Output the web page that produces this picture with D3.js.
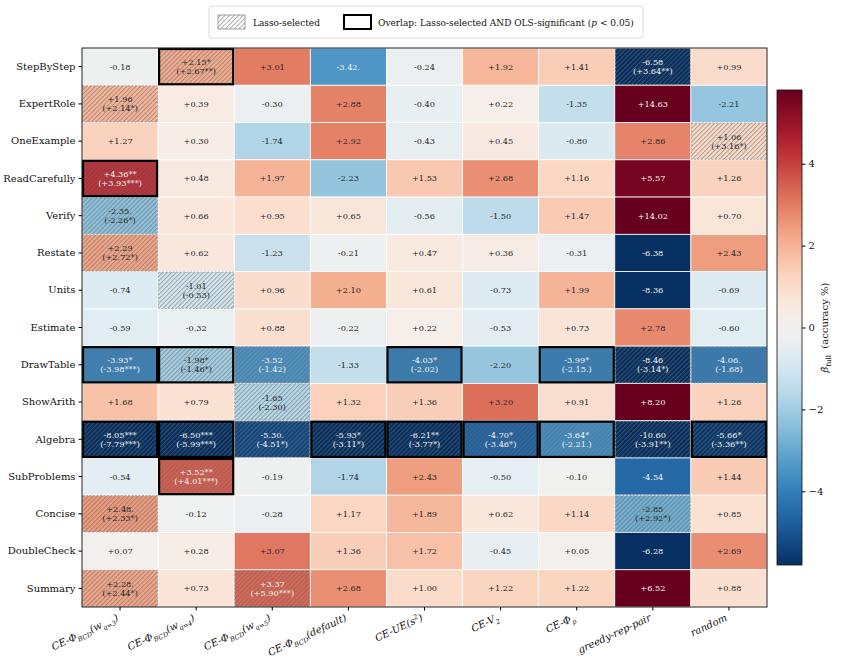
<!DOCTYPE html>
<html>
<head>
<meta charset="utf-8">
<script src="https://cdn.jsdelivr.net/npm/d3@7"></script>
<style>
    body { margin: 0; background: #fff; }
    svg text { font-family: "DejaVu Serif", serif; }
</style>
</head>
<body>
<svg id="chart" width="844" height="660"></svg>
<script>
// rows = prompt components, columns = selection methods
const rowLabels = ["StepByStep", "ExpertRole", "OneExample", "ReadCarefully", "Verify", "Restate",
    "Units", "Estimate", "DrawTable", "ShowArith", "Algebra", "SubProblems", "Concise", "DoubleCheck", "Summary"];

const colLabels = ["CE-Φ_{BCD}(w_{q=3})", "CE-Φ_{BCD}(w_{q=4})", "CE-Φ_{BCD}(w_{q=5})", "CE-Φ_{BCD}(default)",
    "CE-UE(s^{2})", "CE-V_{2}", "CE-Φ_{p}", "greedy-rep-pair", "random"];

// beta_full (accuracy %)
const betaFull = [
    [-0.18, 2.15, 3.01, -3.42, -0.24, 1.92, 1.41, -6.58, 0.99],
    [1.96, 0.39, -0.30, 2.88, -0.40, 0.22, -1.35, 14.63, -2.21],
    [1.27, 0.30, -1.74, 2.92, -0.43, 0.45, -0.80, 2.86, 1.06],
    [4.36, 0.48, 1.97, -2.23, 1.53, 2.68, 1.16, 5.57, 1.26],
    [-2.35, 0.66, 0.95, 0.65, -0.56, -1.50, 1.47, 14.02, 0.70],
    [2.29, 0.62, -1.23, -0.21, 0.47, 0.36, -0.31, -6.38, 2.43],
    [-0.74, -1.01, 0.96, 2.10, 0.61, -0.73, 1.99, -8.36, -0.69],
    [-0.59, -0.32, 0.88, -0.22, 0.22, -0.53, 0.73, 2.78, -0.60],
    [-3.93, -1.98, -3.52, -1.33, -4.03, -2.20, -3.99, -8.46, -4.06],
    [1.68, 0.79, -1.65, 1.32, 1.36, 3.20, 0.91, 8.20, 1.26],
    [-8.05, -6.50, -5.30, -5.93, -6.21, -4.70, -3.64, -10.60, -5.66],
    [-0.54, 3.52, -0.19, -1.74, 2.43, -0.50, -0.10, -4.54, 1.44],
    [2.48, -0.12, -0.28, 1.17, 1.89, 0.62, 1.14, -2.85, 0.85],
    [0.07, 0.28, 3.07, 1.36, 1.72, -0.45, 0.05, -6.28, 2.69],
    [2.28, 0.73, 3.37, 2.68, 1.00, 1.22, 1.22, 6.52, 0.88]
];

// significance marks on beta_full
const sigMarks = [
    ["", "*", "", ".", "", "", "", "", ""],
    ["", "", "", "", "", "", "", "", ""],
    ["", "", "", "", "", "", "", "", ""],
    ["**", "", "", "", "", "", "", "", ""],
    [".", "", "", "", "", "", "", "", ""],
    ["", "", "", "", "", "", "", "", ""],
    ["", "", "", "", "", "", "", "", ""],
    ["", "", "", "", "", "", "", "", ""],
    ["*", "*", "", "", "*", "", "*", "", "."],
    ["", "", "", "", "", "", "", "", ""],
    ["***", "***", ".", "*", "**", "*", "*", "", "*"],
    ["", "**", "", "", "", "", "", "", ""],
    [".", "", "", "", "", "", "", "", ""],
    ["", "", "", "", "", "", "", "", ""],
    [".", "", "", "", "", "", "", "", ""]
];

// OLS estimate shown under lasso-selected cells
const olsText = [
    [null, "+2.67**", null, null, null, null, null, "+3.64**", null],
    ["+2.14*", null, null, null, null, null, null, null, null],
    [null, null, null, null, null, null, null, null, "+3.16*"],
    ["+3.93***", null, null, null, null, null, null, null, null],
    ["-2.26*", null, null, null, null, null, null, null, null],
    ["+2.72*", null, null, null, null, null, null, null, null],
    [null, "-0.53", null, null, null, null, null, null, null],
    [null, null, null, null, null, null, null, null, null],
    ["-3.98***", "-1.46*", "-1.42", null, "-2.02", null, "-2.15.", "-3.14*", "-1.68"],
    [null, null, "-2.30", null, null, null, null, null, null],
    ["-7.79***", "-5.99***", "-4.51*", "-3.11*", "-3.77*", "-3.46*", "-2.21.", "-3.91**", "-3.36**"],
    [null, "+4.01***", null, null, null, null, null, null, null],
    ["+2.33*", null, null, null, null, null, null, "+2.92*", null],
    [null, null, null, null, null, null, null, null, null],
    ["+2.44*", null, "+5.90***", null, null, null, null, null, null]
];

// 0 = none, 1 = lasso-selected, 2 = lasso-selected AND OLS-significant
const selection = [
    [0, 2, 0, 0, 0, 0, 0, 1, 0],
    [1, 0, 0, 0, 0, 0, 0, 0, 0],
    [0, 0, 0, 0, 0, 0, 0, 0, 1],
    [2, 0, 0, 0, 0, 0, 0, 0, 0],
    [1, 0, 0, 0, 0, 0, 0, 0, 0],
    [1, 0, 0, 0, 0, 0, 0, 0, 0],
    [0, 1, 0, 0, 0, 0, 0, 0, 0],
    [0, 0, 0, 0, 0, 0, 0, 0, 0],
    [2, 2, 1, 0, 2, 0, 2, 1, 1],
    [0, 0, 1, 0, 0, 0, 0, 0, 0],
    [2, 2, 1, 2, 2, 2, 2, 1, 2],
    [0, 2, 0, 0, 0, 0, 0, 0, 0],
    [1, 0, 0, 0, 0, 0, 0, 1, 0],
    [0, 0, 0, 0, 0, 0, 0, 0, 0],
    [1, 0, 1, 0, 0, 0, 0, 0, 0]
];

const colorLimit = 5.8;
const cbTicks = [-4, -2, 0, 2, 4];

const svg = d3.select("#chart");
const plot = { left: 82, right: 767, top: 48, bottom: 607 };

const x = d3.scaleBand().domain(d3.range(colLabels.length)).range([plot.left, plot.right]);
const y = d3.scaleBand().domain(d3.range(rowLabels.length)).range([plot.top, plot.bottom]);
const color = d3.scaleDiverging([-colorLimit, 0, colorLimit], t => d3.interpolateRdBu(1 - t)).clamp(true);

const fmt = v => (v >= 0 ? "+" : "") + v.toFixed(2);

// hatch pattern
const defs = svg.append("defs");
defs.append("pattern")
    .attr("id", "hatch")
    .attr("patternUnits", "userSpaceOnUse")
    .attr("width", 3.2).attr("height", 3.2)
    .attr("patternTransform", "rotate(45)")
    .append("line")
    .attr("x1", 0.5).attr("y1", 0).attr("x2", 0.5).attr("y2", 3.2)
    .attr("stroke", "rgba(105,105,105,0.6)")
    .attr("stroke-width", 0.9);

const cells = [];
betaFull.forEach((row, r) => row.forEach((v, c) => {
    cells.push({ r, c, v, mark: sigMarks[r][c], ols: olsText[r][c], sel: selection[r][c] });
}));

// cells
svg.append("g").selectAll("rect")
    .data(cells)
    .enter()
    .append("rect")
    .attr("x", d => x(d.c))
    .attr("y", d => y(d.r))
    .attr("width", x.bandwidth())
    .attr("height", y.bandwidth())
    .attr("fill", d => color(d.v))
    .attr("stroke", "#fff")
    .attr("stroke-width", 0.8);

// hatches for lasso-selected
const selected = cells.filter(d => d.sel > 0);
svg.append("g").selectAll("rect")
    .data(selected)
    .enter()
    .append("rect")
    .attr("x", d => x(d.c) + 0.5)
    .attr("y", d => y(d.r) + 0.5)
    .attr("width", x.bandwidth() - 1)
    .attr("height", y.bandwidth() - 1)
    .attr("fill", "url(#hatch)")
    .attr("stroke", d => d.sel === 1 ? "#a0a0a0" : "none")
    .attr("stroke-width", 0.9)
    .attr("stroke-dasharray", "2,1.5");

// overlap borders
svg.append("g").selectAll("rect")
    .data(cells.filter(d => d.sel === 2))
    .enter()
    .append("rect")
    .attr("x", d => x(d.c) + 1)
    .attr("y", d => y(d.r) + 1)
    .attr("width", x.bandwidth() - 2)
    .attr("height", y.bandwidth() - 2)
    .attr("fill", "none")
    .attr("stroke", "#000")
    .attr("stroke-width", 2.2);

// cell labels
const labels = svg.append("g").selectAll("text")
    .data(cells)
    .enter()
    .append("text")
    .attr("text-anchor", "middle")
    .style("font-size", "8.2px")
    .attr("fill", d => Math.abs(d.v) > 3.3 ? "#f4f4f4" : "#262626");

labels.each(function (d) {
    const t = d3.select(this);
    const cx = x(d.c) + x.bandwidth() / 2;
    const cy = y(d.r) + y.bandwidth() / 2;
    if (d.ols) {
        t.append("tspan").attr("x", cx).attr("y", cy - 1.5).text(fmt(d.v) + d.mark);
        t.append("tspan").attr("x", cx).attr("y", cy + 7.5).text("(" + d.ols + ")");
    } else {
        t.append("tspan").attr("x", cx).attr("y", cy + 3).text(fmt(d.v) + d.mark);
    }
});

// frame
svg.append("rect")
    .attr("x", plot.left).attr("y", plot.top)
    .attr("width", plot.right - plot.left).attr("height", plot.bottom - plot.top)
    .attr("fill", "none").attr("stroke", "#222").attr("stroke-width", 1);

// y axis
const yAxis = svg.append("g")
    .attr("transform", `translate(${plot.left},0)`)
    .call(d3.axisLeft(y).tickSize(3.5).tickPadding(3).tickFormat(i => rowLabels[i]));
yAxis.select(".domain").remove();
yAxis.selectAll("text").style("font-size", "10px").attr("fill", "#111");

// x axis, labels drawn as mathtext-like italic with sub/superscripts
const xAxis = svg.append("g")
    .attr("transform", `translate(0,${plot.bottom})`)
    .call(d3.axisBottom(x).tickSize(3.5).tickFormat(""));
xAxis.select(".domain").remove();

function richText(sel, str, size) {
    const re = /([_^])\{([^}]*)\}/g;
    let last = 0, m, shift = 0;
    const add = (txt, dy, fs) => sel.append("tspan").attr("dy", dy).style("font-size", fs + "px").text(txt);
    while ((m = re.exec(str)) !== null) {
        if (m.index > last) { add(str.slice(last, m.index), -shift, size); shift = 0; }
        const off = m[1] === "_" ? size * 0.3 : -size * 0.4;
        add(m[2], off - shift, size * 0.66);
        shift = off;
        last = re.lastIndex;
    }
    if (last < str.length) add(str.slice(last), -shift, size);
}

xAxis.selectAll(".tick").each(function (i) {
    const t = d3.select(this).append("text")
        .attr("transform", "translate(-1,13) rotate(-25)")
        .attr("text-anchor", "end")
        .attr("fill", "#111")
        .style("font-style", "italic")
        .style("font-size", "10px");
    richText(t, colLabels[i], 10);
});

// colorbar
const cb = { x: 777, w: 25, top: 90, bottom: 565 };
const cScale = d3.scaleLinear().domain([-colorLimit, colorLimit]).range([cb.bottom, cb.top]);
const grad = defs.append("linearGradient").attr("id", "cbgrad")
    .attr("x1", 0).attr("y1", 1).attr("x2", 0).attr("y2", 0);
d3.range(0, 1.0001, 0.02).forEach(t => {
    grad.append("stop").attr("offset", t).attr("stop-color", color(-colorLimit + t * 2 * colorLimit));
});
svg.append("rect")
    .attr("x", cb.x).attr("y", cb.top).attr("width", cb.w).attr("height", cb.bottom - cb.top)
    .attr("fill", "url(#cbgrad)").attr("stroke", "#111").attr("stroke-width", 0.8);

const cbAxis = svg.append("g")
    .attr("transform", `translate(${cb.x + cb.w},0)`)
    .call(d3.axisRight(cScale).tickValues(cbTicks).tickSize(3.5).tickPadding(3)
        .tickFormat(d => d < 0 ? "\u2212" + Math.abs(d) : d));
cbAxis.select(".domain").remove();
cbAxis.selectAll("text").style("font-size", "10px").attr("fill", "#111");

const cbLabel = svg.append("text")
    .attr("transform", `translate(828,${(cb.top + cb.bottom) / 2}) rotate(-90)`)
    .attr("text-anchor", "middle")
    .attr("fill", "#111")
    .style("font-size", "10px");
cbLabel.append("tspan").style("font-style", "italic").text("\u03B2\u0302");
cbLabel.append("tspan").attr("dy", 3).style("font-size", "7px").text("full");
cbLabel.append("tspan").attr("dy", -3).text("\u00A0 (accuracy %)");

// legend
const legend = svg.append("g");
legend.append("rect")
    .attr("x", 209).attr("y", 6).attr("width", 434).attr("height", 32).attr("rx", 3)
    .attr("fill", "#fff").attr("stroke", "#d0d0d0").attr("stroke-width", 0.8);
legend.append("rect")
    .attr("x", 218).attr("y", 15).attr("width", 27).attr("height", 14)
    .attr("fill", "url(#hatch)").attr("stroke", "#888").attr("stroke-width", 0.8);
legend.append("text")
    .attr("x", 253).attr("y", 25.5).style("font-size", "9px").attr("fill", "#111")
    .text("Lasso-selected");
legend.append("rect")
    .attr("x", 344).attr("y", 15).attr("width", 27).attr("height", 14)
    .attr("fill", "#fff").attr("stroke", "#000").attr("stroke-width", 2);
const ovText = legend.append("text")
    .attr("x", 378).attr("y", 25.5).style("font-size", "9px").attr("fill", "#111");
ovText.append("tspan").text("Overlap: Lasso-selected AND OLS-significant (");
ovText.append("tspan").style("font-style", "italic").text("p");
ovText.append("tspan").text(" < 0.05)");
</script>
</body>
</html>
